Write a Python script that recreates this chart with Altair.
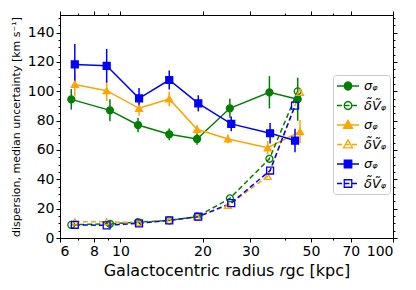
import altair as alt
import pandas as pd

# ---------------- data ----------------
series_keys = ["g_s", "g_d", "o_s", "o_d", "b_s", "b_d"]
series_colors = ["green", "green", "orange", "orange", "blue", "blue"]

green_x = [6.6, 9.15, 11.6, 15.1, 19.1, 25.2, 35.2, 44.7]
green_sigma = [94.5, 87.0, 77.0, 70.7, 67.5, 88.4, 99.3, 94.6]
green_sigma_err = [7.0, 7.5, 5.0, 4.0, 4.0, 6.5, 11.0, 14.7]
green_dv = [9.0, 9.7, 10.8, 12.0, 14.5, 27.0, 54.0, 100.0]

orange_x = [6.8, 8.9, 11.7, 15.1, 19.1, 24.8, 34.7, 45.6]
orange_sigma = [104.7, 100.4, 88.4, 94.8, 74.1, 67.5, 61.5, 72.5]
orange_sigma_err = [8.0, 7.0, 5.0, 5.0, 3.0, 3.0, 4.5, 8.0]
orange_dv = [11.0, 11.0, 10.5, 12.0, 14.5, 22.2, 42.0, 99.3]

blue_x = [6.8, 8.9, 11.7, 15.1, 19.3, 25.5, 35.4, 43.7]
blue_sigma = [118.3, 117.4, 95.2, 107.7, 91.8, 77.8, 71.4, 66.4]
blue_sigma_err = [14.0, 11.5, 7.0, 6.5, 5.5, 5.0, 7.0, 8.0]
blue_dv = [9.0, 8.6, 10.0, 12.0, 14.5, 23.8, 46.0, 90.2]

x_ticks = [6, 7, 8, 9, 10, 20, 30, 40, 50, 60, 70, 100]
x_labelled = [6, 8, 10, 20, 30, 50, 70, 100]
y_ticks = list(range(0, 151, 5))

rows = []
for key, xs, ys, errs in [
    ("g_s", green_x, green_sigma, green_sigma_err),
    ("o_s", orange_x, orange_sigma, orange_sigma_err),
    ("b_s", blue_x, blue_sigma, blue_sigma_err),
]:
    for x, y, e in zip(xs, ys, errs):
        rows.append(dict(series=key, kind="sigma", x=x, y=y, lo=y - e, hi=y + e))
for key, xs, ys in [("g_d", green_x, green_dv), ("o_d", orange_x, orange_dv), ("b_d", blue_x, blue_dv)]:
    for x, y in zip(xs, ys):
        rows.append(dict(series=key, kind="dv", x=x, y=y, lo=y, hi=y))
df = pd.DataFrame(rows)

# ---------------- styling helpers ----------------
FONT = "DejaVu Sans"
xscale = alt.Scale(type="log", domain=[6, 100], nice=False)
yscale = alt.Scale(domain=[0, 152], nice=False, zero=False)
color_scale = alt.Scale(domain=series_keys, range=series_colors)

xl = "[" + ",".join(str(v) for v in x_labelled) + "]"
x_major_test = f"indexof({xl}, datum.value) >= 0"
y_major_test = "datum.value % 20 == 0"

x_axis = alt.Axis(
    values=x_ticks,
    labelExpr=f"{x_major_test} ? format(datum.value, 'd') : ''",
    tickSize=alt.condition(x_major_test, alt.value(4), alt.value(2)),
    labelFontSize=14, labelPadding=2, grid=False,
    title="Galactocentric radius 𝑟gc [kpc]", titleFontSize=16,
    titleFontWeight="normal", titlePadding=4,
)
y_axis = alt.Axis(
    values=y_ticks,
    labelExpr=f"{y_major_test} ? format(datum.value, 'd') : ''",
    tickSize=alt.condition(y_major_test, alt.value(4), alt.value(2)),
    labelFontSize=14, labelPadding=2, grid=False,
    title="dispersion, median uncertainty [km s⁻¹]", titleFontSize=11,
    titleFontWeight="normal", titlePadding=6,
)
top_axis = alt.Axis(
    orient="top", values=x_ticks, labels=False, title=None, grid=False, domain=False,
    tickSize=alt.condition(x_major_test, alt.value(4), alt.value(2)),
)
right_axis = alt.Axis(
    orient="right", values=y_ticks, labels=False, title=None, grid=False, domain=False,
    tickSize=alt.condition(y_major_test, alt.value(4), alt.value(2)),
)

base = alt.Chart(df)

lines_solid = base.transform_filter("datum.kind == 'sigma'").mark_line(strokeWidth=1.5).encode(
    x=alt.X("x:Q", scale=xscale, axis=x_axis),
    y=alt.Y("y:Q", scale=yscale, axis=y_axis),
    color=alt.Color("series:N", scale=color_scale, legend=None),
)
lines_dash = base.transform_filter("datum.kind == 'dv'").mark_line(strokeWidth=1.5, strokeDash=[5, 3]).encode(
    x=alt.X("x:Q", scale=xscale, axis=None),
    y=alt.Y("y:Q", scale=yscale, axis=None),
    color=alt.Color("series:N", scale=color_scale, legend=None),
)
errbars = base.transform_filter("datum.kind == 'sigma'").mark_rule(strokeWidth=1.5).encode(
    x=alt.X("x:Q", scale=xscale, axis=None),
    y=alt.Y("lo:Q", scale=yscale, axis=None),
    y2="hi:Q",
    color=alt.Color("series:N", scale=color_scale, legend=None),
)
points = base.mark_point(opacity=1, strokeWidth=1.3).encode(
    x=alt.X("x:Q", scale=xscale, axis=None),
    y=alt.Y("y:Q", scale=yscale, axis=None),
    shape=alt.Shape("series:N", scale=alt.Scale(domain=series_keys,
                    range=["circle", "circle", "triangle-up", "triangle-up", "square", "square"]), legend=None),
    fill=alt.Fill("series:N", scale=alt.Scale(domain=series_keys,
                  range=["green", "transparent", "orange", "transparent", "blue", "transparent"]), legend=None),
    stroke=alt.Stroke("series:N", scale=color_scale, legend=None),
    size=alt.Size("series:N", scale=alt.Scale(domain=series_keys, range=[48, 48, 72, 72, 80, 64]), legend=None),
)

# legend symbols: line + marker drawn as custom paths (unit = 7 px)
U = 7.0
def p(v):
    return f"{v / U:.3f}"

CX = 4.0
SOLID = f"M{p(-7)},0L{p(15)},0"
DASH = f"M{p(-7)},0L{p(-2)},0M{p(0.5)},0L{p(5.5)},0M{p(8)},0L{p(13)},0"
r = 3.8
CIRC = f"M{p(CX + r)},0A{p(r)},{p(r)} 0 1 1 {p(CX - r)},0A{p(r)},{p(r)} 0 1 1 {p(CX + r)},0Z"
h = 3.75
SQR = f"M{p(CX - h)},{p(-h)}L{p(CX + h)},{p(-h)}L{p(CX + h)},{p(h)}L{p(CX - h)},{p(h)}Z"
TRI = f"M{p(CX)},{p(-4.6)}L{p(CX + 4.5)},{p(3.3)}L{p(CX - 4.5)},{p(3.3)}Z"
legend_paths = [SOLID + CIRC, DASH + CIRC, SOLID + TRI, DASH + TRI, SOLID + SQR, DASH + SQR]

leg = alt.Legend(
    title=None, orient="none", legendX=273, legendY=60,
    symbolSize=196, symbolOpacity=1, symbolStrokeWidth=1.3,
    labelExpr="indexof(datum.value, '_s') >= 0 ? 'σᵩ' : 'δ̃Ṽᵩ'",
    labelFontSize=13, labelFont=FONT, labelFontStyle="italic", labelColor="black",
    labelOffset=12, rowPadding=4.5, padding=3,
    fillColor="white", strokeColor="#cccccc", cornerRadius=3,
)
legend_layer = base.mark_point(opacity=0).encode(
    x=alt.X("x:Q", scale=xscale, axis=top_axis),
    y=alt.Y("y:Q", scale=yscale, axis=right_axis),
    color=alt.Color("series:N", scale=color_scale, legend=leg),
    shape=alt.Shape("series:N", scale=alt.Scale(domain=series_keys, range=legend_paths), legend=leg),
    fill=alt.Fill("series:N", scale=alt.Scale(domain=series_keys,
                  range=["green", "transparent", "orange", "transparent", "blue", "transparent"]), legend=leg),
)

chart = alt.layer(lines_solid, lines_dash, errbars, points, legend_layer).resolve_scale(
    color="independent", shape="independent", fill="independent", stroke="independent", size="independent"
).resolve_axis(
    x="independent", y="independent"
).properties(
    width=333, height=223,
    autosize=alt.AutoSizeParams(type="none"),
    padding={"left": 52, "top": 7, "right": 15, "bottom": 44},
).configure_view(
    stroke="black", strokeWidth=1
).configure_axis(
    domainColor="black", tickColor="black", labelColor="black", titleColor="black",
    labelFont=FONT, titleFont=FONT, domainWidth=1, tickWidth=1,
)

chart.save("out.html", embed_options={"renderer": "svg", "actions": False})
